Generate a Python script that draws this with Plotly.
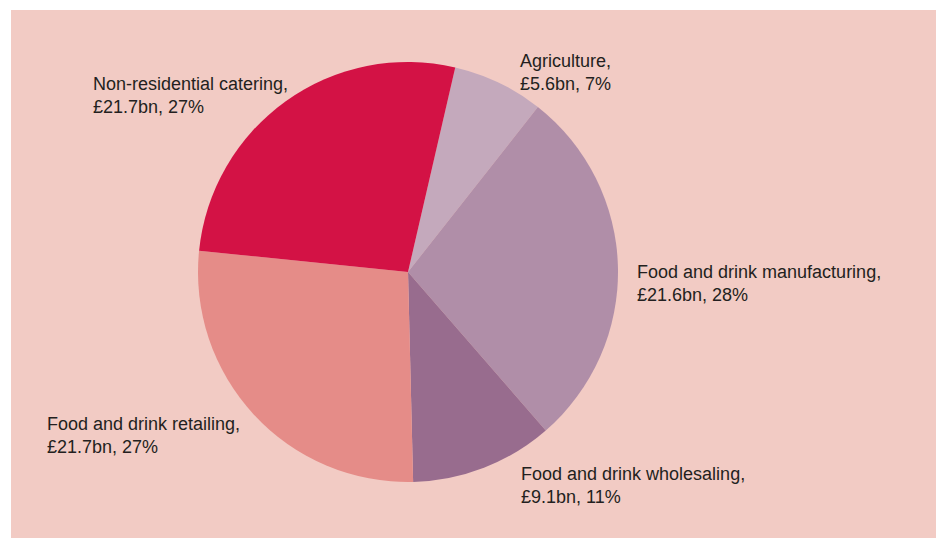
import plotly.graph_objects as go

W, H = 936, 538

# Data
sectors = ["Agriculture", "Food and drink manufacturing", "Food and drink wholesaling",
           "Food and drink retailing", "Non-residential catering"]
values_bn = [5.6, 21.6, 9.1, 21.7, 21.7]
shares_pct = [7, 28, 11, 27, 27]
colors = ["#C4A9BC", "#B08EA8", "#986C8E", "#E58C88", "#D31245"]

# label anchor (left x, cap-top y) in pixels
label_pos = [(519, 55), (636, 266), (520, 468), (46, 418), (92, 78)]

BG = "#F2CBC4"
TXT = "#231F20"

cx, cy, r = 408, 272, 210

fig = go.Figure()
fig.add_trace(go.Pie(
    labels=sectors,
    values=shares_pct,
    customdata=values_bn,
    sort=False,
    direction="clockwise",
    rotation=13,
    marker=dict(colors=colors, line=dict(width=0)),
    textinfo="none",
    hovertemplate="%{label}: £%{customdata}bn, %{value}%<extra></extra>",
    showlegend=False,
    domain=dict(x=[(cx - r) / W, (cx + r) / W], y=[(H - cy - r) / H, (H - cy + r) / H]),
))

fig.add_shape(type="rect", xref="paper", yref="paper",
              x0=11 / W, x1=1, y0=0, y1=1 - 10 / H,
              fillcolor=BG, line=dict(width=0), layer="below")

fs = 18
for name, v, p, (lx, ly) in zip(sectors, values_bn, shares_pct, label_pos):
    fig.add_annotation(
        x=lx / W, y=1 - (ly - 5) / H, xref="paper", yref="paper",
        xanchor="left", yanchor="top", align="left",
        text=f"{name},<br>£{v}bn, {p}%",
        showarrow=False, borderpad=0,
        font=dict(family="Liberation Sans, Arial, sans-serif", size=fs, color=TXT),
    )

fig.update_layout(
    width=W, height=H,
    margin=dict(l=0, r=0, t=0, b=0),
    paper_bgcolor="white",
    plot_bgcolor="white",
)

fig.write_html("out.html")
